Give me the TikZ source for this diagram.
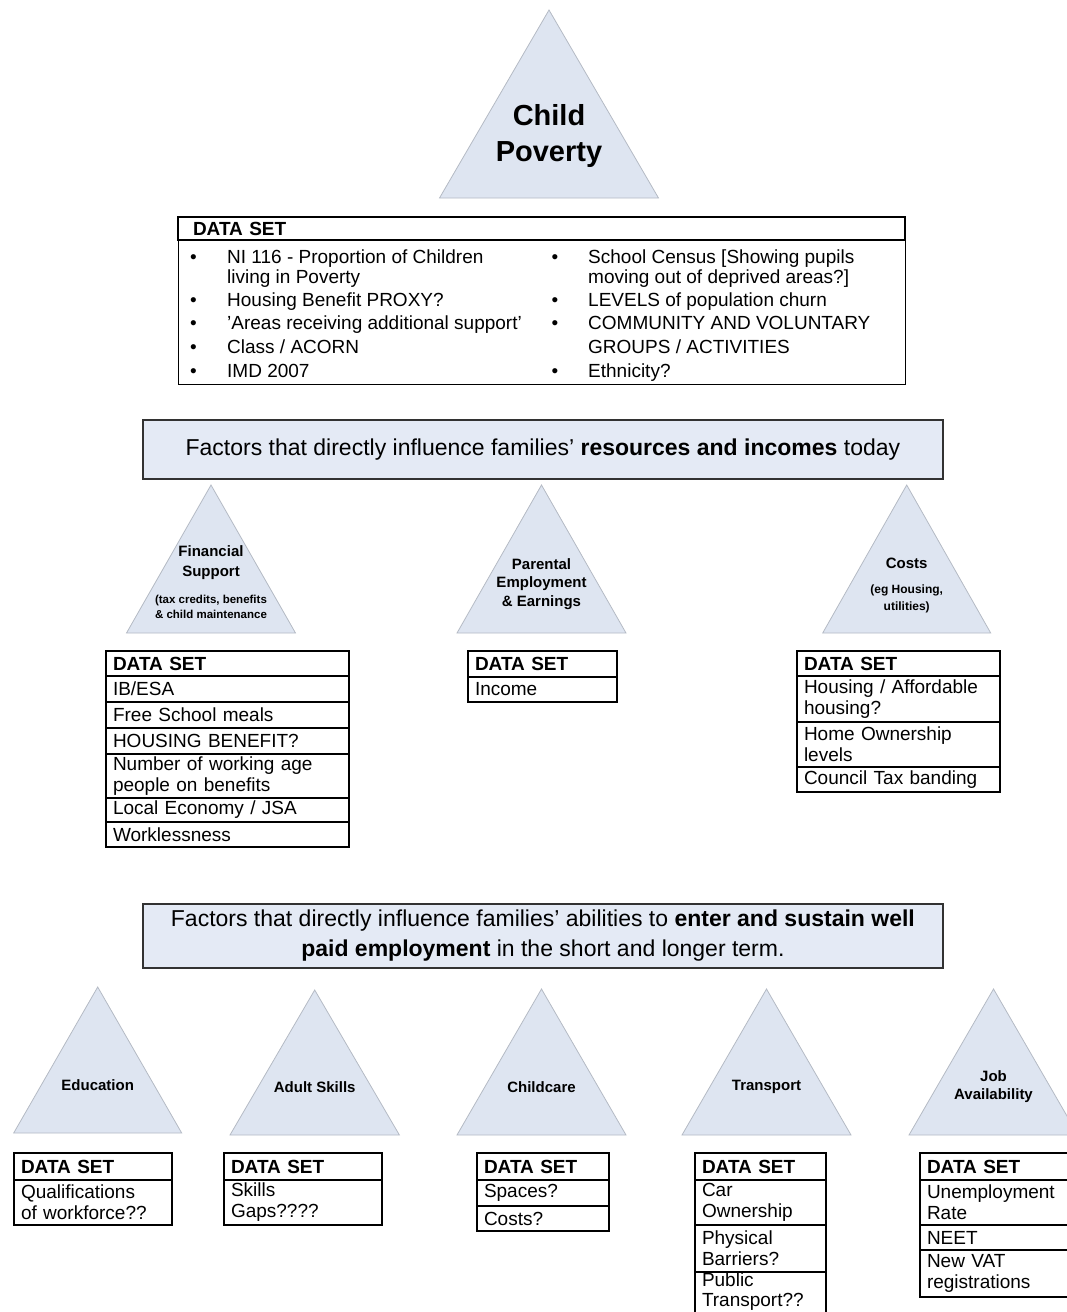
\documentclass[tikz,border=0pt]{standalone}
\usepackage{fontspec}
\setmainfont{Liberation Sans}
\definecolor{trifill}{RGB}{222,229,241}
\definecolor{triline}{RGB}{180,186,196}
\definecolor{banfill}{RGB}{228,234,245}
\definecolor{banline}{RGB}{50,50,50}
\tikzset{
  tri/.style={fill=trifill, draw=triline, line width=0.8pt},
  banner/.style={fill=banfill, draw=banline, line width=1.8pt, anchor=north west, align=center, inner sep=0pt, font=\fontsize{23}{30}\selectfont},
  cell/.style={draw=black, line width=1.4pt, outer sep=0pt, anchor=north west, align=left, inner xsep=7pt, inner ysep=0pt, font=\fontsize{19}{21}\selectfont},
  cellline/.style={draw=black, line width=1.4pt},
  frame/.style={draw=black, line width=1.4pt, anchor=north west, inner sep=0pt},
  lbl/.style={font=\bfseries\fontsize{15}{18.5}\selectfont, align=center, inner sep=0pt},
  sublbl/.style={font=\bfseries\fontsize{11.5}{15}\selectfont, align=center, inner sep=0pt},
  item/.style={anchor=base west, inner sep=0pt, font=\fontsize{19}{20}\selectfont},
}
\newcommand\dcell[6]{%
  \pgfmathsetmacro\celltw{#4-14}%
  \node[cell, minimum width=#4, minimum height=#5, text width=\celltw pt] (#1) at (#2,#3) {#6};}
\newcommand\tripath[4]{\filldraw[tri] (#1,#2) -- ({#1-#4},#3) -- ({#1+#4},#3) -- cycle;}
\begin{document}
\begin{tikzpicture}[x=1pt,y=-1pt]
\useasboundingbox (0,0) rectangle (1066,1312);

% ---------- Child Poverty ----------
\tripath{549}{10}{198}{109.5}
\node[font=\bfseries\fontsize{29}{36}\selectfont, align=center, inner sep=0pt] (cp) at (549,136) {Child\\Poverty};

% top data set table
\node[frame, minimum width=727, minimum height=167] (topframe) at (178,217) {};
\node[cell, minimum width=727, minimum height=23, text width=697pt, inner xsep=15pt] (tophead) at (178,217) {\textbf{DATA SET}};
\node[item] (b1) at (190,263) {•};
\node[item] (b2) at (190,306) {•};
\node[item] (b3) at (190,329) {•};
\node[item] (b4) at (190,353) {•};
\node[item] (b5) at (190,377) {•};
\node[item] (l1) at (227,263) {NI 116 - Proportion of Children};
\node[item] (l1b) at (227,283) {living in Poverty};
\node[item] (l2) at (227,306) {Housing Benefit PROXY?};
\node[item] (l3) at (227,329) {'Areas receiving additional support'};
\node[item] (l4) at (227,353) {Class / ACORN};
\node[item] (l5) at (227,377) {IMD 2007};
\node[item] (rb1) at (551.5,263) {•};
\node[item] (rb2) at (551.5,306) {•};
\node[item] (rb3) at (551.5,329) {•};
\node[item] (rb4) at (551.5,377) {•};
\node[item] (r1) at (588,263) {School Census [Showing pupils};
\node[item] (r1b) at (588,283) {moving out of deprived areas?]};
\node[item] (r2) at (588,306) {LEVELS of population churn};
\node[item] (r3) at (588,329) {COMMUNITY AND VOLUNTARY};
\node[item] (r3b) at (588,353) {GROUPS / ACTIVITIES};
\node[item] (r4) at (588,377) {Ethnicity?};

% ---------- Banner 1 ----------
\node[banner, minimum width=800, minimum height=59] (ban1) at (142,419)
  {Factors that directly influence families' \textbf{resources and incomes} today};

% ---------- Row 1 triangles ----------
\tripath{211}{485}{633}{84.5}
\tripath{541.5}{485}{633}{84.5}
\tripath{906.7}{485}{633}{84}
\node[lbl, font=\bfseries\fontsize{15}{20}\selectfont] (fsl) at (211,563) {Financial\\Support};
\node[sublbl] (fss) at (211,607) {(tax credits, benefits\\\& child maintenance};
\node[lbl] (pel) at (541.5,584) {Parental\\Employment\\\& Earnings};
\node[lbl] (col) at (906.7,563) {Costs};
\node[sublbl, font=\bfseries\fontsize{12}{17}\selectfont] (cos) at (906.7,599) {(eg Housing,\\utilities)};

% ---------- Row 1 tables ----------
\dcell{fs0}{106}{651}{243}{25}{\textbf{DATA SET}}
\dcell{fs1}{106}{676}{243}{26}{IB/ESA}
\dcell{fs2}{106}{702}{243}{26}{Free School meals}
\dcell{fs3}{106}{728}{243}{26}{HOUSING BENEFIT?}
\dcell{fs4}{106}{754}{243}{44}{Number of working age\\people on benefits}
\dcell{fs5}{106}{798}{243}{24}{Local Economy / JSA}
\dcell{fs6}{106}{822}{243}{25}{Worklessness}

\dcell{pe0}{468}{651}{149}{26}{\textbf{DATA SET}}
\dcell{pe1}{468}{677}{149}{25}{Income}

\dcell{co0}{797}{651}{203}{25}{\textbf{DATA SET}}
\dcell{co1}{797}{676}{203}{46}{Housing / Affordable\\housing?}
\dcell{co2}{797}{722}{203}{45}{Home Ownership\\levels}
\dcell{co3}{797}{767}{203}{25}{Council Tax banding}

% ---------- Banner 2 ----------
\node[banner, minimum width=800, minimum height=64] (ban2) at (142,903)
  {Factors that directly influence families' abilities to \textbf{enter and sustain well}\\\textbf{paid employment} in the short and longer term.};

% ---------- Row 2 triangles ----------
\tripath{97.7}{987}{1133}{84}
\tripath{314.7}{990}{1135}{84.7}
\tripath{541.5}{989}{1135}{84.5}
\tripath{766.5}{989}{1135}{84.5}
\tripath{993.5}{989}{1135}{84.5}
\node[lbl] (edl) at (97.7,1085) {Education};
\node[lbl] (asl) at (314.7,1087) {Adult Skills};
\node[lbl] (ccl) at (541.5,1087) {Childcare};
\node[lbl] (trl) at (766.5,1087) {Transport};
\node[lbl, font=\bfseries\fontsize{15}{18}\selectfont] (jal) at (993.5,1087) {Job\\Availability};

% ---------- Row 2 tables ----------
\dcell{ed0}{14}{1153}{158}{27}{\textbf{DATA SET}}
\dcell{ed1}{14}{1180}{158}{45}{Qualifications\\of workforce??}

\dcell{as0}{224}{1153}{158}{27}{\textbf{DATA SET}}
\dcell{as1}{224}{1180}{158}{45}{Skills\\Gaps????}

\dcell{cc0}{477}{1153}{132}{27}{\textbf{DATA SET}}
\dcell{cc1}{477}{1180}{132}{26}{Spaces?}
\dcell{cc2}{477}{1206}{132}{25}{Costs?}

\dcell{tr0}{695}{1153}{131}{27}{\textbf{DATA SET}}
\dcell{tr1}{695}{1180}{131}{45}{Car\\Ownership}
\dcell{tr2}{695}{1225}{131}{47}{Physical\\Barriers?}
\node[cell, draw=none, minimum width=131, minimum height=37, text width=117pt, font=\fontsize{19}{19.5}\selectfont] (tr3) at (695,1273) {Public\\Transport??};
\draw[cellline] (tr2.south west) -- ++(0,50);
\draw[cellline] (tr2.south east) -- ++(0,50);

\dcell{ja0}{920}{1153}{148}{27}{\textbf{DATA SET}}
\dcell{ja1}{920}{1180}{148}{45}{Unemployment\\Rate}
\dcell{ja2}{920}{1225}{148}{25}{NEET}
\dcell{ja3}{920}{1250}{148}{47}{New VAT\\registrations}
\end{tikzpicture}
\end{document}
